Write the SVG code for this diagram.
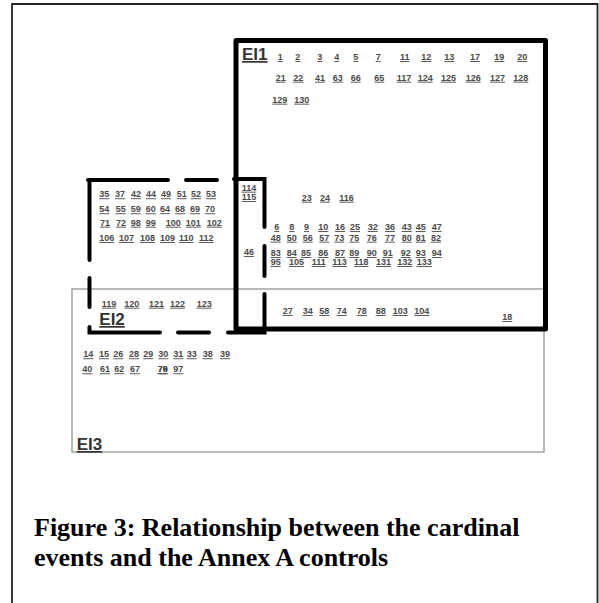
<svg xmlns="http://www.w3.org/2000/svg" width="599" height="603" viewBox="0 0 599 603">
<style>
.n{font-family:"Liberation Sans",Arial,sans-serif;font-size:9px;font-weight:bold;fill:#4a4a4a;text-decoration:underline}
.lab{font-family:"Liberation Sans",Arial,sans-serif;font-size:17px;font-weight:bold;fill:#333;text-decoration:underline}
.cap{font-family:"Liberation Serif","Times New Roman",serif;font-size:26px;font-weight:bold;fill:#000}
.dash{stroke:#000;stroke-width:4;stroke-linecap:round;fill:none}
</style>
<rect x="0" y="0" width="599" height="603" fill="#fff"/>
<path d="M12,603 V4 H597.5 V603" fill="none" stroke="#222" stroke-width="1.8"/>
<g id="EI3">
<rect x="72" y="289" width="472" height="163" fill="none" stroke="#8a8a8a" stroke-width="1.2"/>
<text class="lab" x="76.7" y="450">EI3</text>
<text class="n" y="357.3"><tspan x="83.3">14</tspan><tspan x="99">15</tspan><tspan x="113.3">26</tspan><tspan x="129">28</tspan><tspan x="143.3">29</tspan><tspan x="158.3">30</tspan><tspan x="173.3">31</tspan><tspan x="186.7">33</tspan><tspan x="202.7">38</tspan><tspan x="220">39</tspan></text>
<text class="n" y="372.3"><tspan x="82.3">40</tspan><tspan x="100">61</tspan><tspan x="114.3">62</tspan><tspan x="130">67</tspan><tspan x="157.7">76</tspan><tspan x="173.3">97</tspan></text>
<text class="n" x="157.7" y="372.3">79</text>
</g>
<g id="EI2">
<path class="dash" d="M88,180 H168 M186,180 H217 M234,179 H264.5 V227 M264.5,246 V276 M264.5,294 V332.5 H228 M209,332.5 H178 M160,332.5 H89.5 V327 M89.5,307 V278 M89.5,260 V180 H92"/>
<text class="lab" x="99.3" y="325">EI2</text>
<text class="n" y="197.3"><tspan x="99.3">35</tspan><tspan x="115">37</tspan><tspan x="131">42</tspan><tspan x="146">44</tspan><tspan x="161">49</tspan><tspan x="176.7">51</tspan><tspan x="191">52</tspan><tspan x="206">53</tspan></text>
<text class="n" y="212.3"><tspan x="99.3">54</tspan><tspan x="115.7">55</tspan><tspan x="130.7">59</tspan><tspan x="145.7">60</tspan><tspan x="160">64</tspan><tspan x="175">68</tspan><tspan x="190">69</tspan><tspan x="205">70</tspan></text>
<text class="n" y="225.7"><tspan x="100">71</tspan><tspan x="116">72</tspan><tspan x="130.7">98</tspan><tspan x="145.7">99</tspan><tspan x="165.7">100</tspan><tspan x="185.7">101</tspan><tspan x="206.7">102</tspan></text>
<text class="n" y="241"><tspan x="99.3">106</tspan><tspan x="119">107</tspan><tspan x="140">108</tspan><tspan x="160">109</tspan><tspan x="179">110</tspan><tspan x="199">112</tspan></text>
</g>
<g id="EI2-EI3">
<text class="n" y="306.7"><tspan x="101.7">119</tspan><tspan x="124.3">120</tspan><tspan x="149">121</tspan><tspan x="170">122</tspan><tspan x="196.7">123</tspan></text>
</g>
<g id="EI1">
<rect x="236" y="40.5" width="309.5" height="288.5" fill="none" stroke="#000" stroke-width="5" stroke-linejoin="round"/>
<text class="lab" x="242" y="60">EI1</text>
<text class="n" y="60"><tspan x="277.7">1</tspan><tspan x="295.3">2</tspan><tspan x="317.3">3</tspan><tspan x="334.3">4</tspan><tspan x="353.3">5</tspan><tspan x="375.7">7</tspan><tspan x="400">11</tspan><tspan x="421.3">12</tspan><tspan x="444.3">13</tspan><tspan x="470">17</tspan><tspan x="494.3">19</tspan><tspan x="517.3">20</tspan></text>
<text class="n" y="80.7"><tspan x="275.7">21</tspan><tspan x="293.3">22</tspan><tspan x="315">41</tspan><tspan x="332.7">63</tspan><tspan x="350.7">66</tspan><tspan x="374.3">65</tspan><tspan x="396.7">117</tspan><tspan x="417.7">124</tspan><tspan x="441">125</tspan><tspan x="465.7">126</tspan><tspan x="490">127</tspan><tspan x="513.3">128</tspan></text>
<text class="n" y="102.7"><tspan x="272.3">129</tspan><tspan x="294.3">130</tspan></text>
<text class="n" y="200.7"><tspan x="301.7">23</tspan><tspan x="320">24</tspan><tspan x="339.3">116</tspan></text>
<text class="n" y="230"><tspan x="274.3">6</tspan><tspan x="289.3">8</tspan><tspan x="304">9</tspan><tspan x="318.3">10</tspan><tspan x="335">16</tspan><tspan x="350">25</tspan><tspan x="367.7">32</tspan><tspan x="385">36</tspan><tspan x="401.7">43</tspan><tspan x="415.7">45</tspan><tspan x="431.7">47</tspan></text>
<text class="n" y="240.7"><tspan x="270.7">48</tspan><tspan x="286.7">50</tspan><tspan x="302.7">56</tspan><tspan x="319.3">57</tspan><tspan x="334.3">73</tspan><tspan x="349.3">75</tspan><tspan x="366.7">76</tspan><tspan x="385">77</tspan><tspan x="401.7">80</tspan><tspan x="415.7">81</tspan><tspan x="431">82</tspan></text>
<text class="n" y="256"><tspan x="270.7">83</tspan><tspan x="286.7">84</tspan><tspan x="301">85</tspan><tspan x="318.3">86</tspan><tspan x="335">87</tspan><tspan x="349.3">89</tspan><tspan x="366.7">90</tspan><tspan x="382.7">91</tspan><tspan x="400.7">92</tspan><tspan x="415.7">93</tspan><tspan x="431.7">94</tspan></text>
<text class="n" y="265"><tspan x="270.7">95</tspan><tspan x="289">105</tspan><tspan x="311.7">111</tspan><tspan x="332.3">113</tspan><tspan x="354">118</tspan><tspan x="376">131</tspan><tspan x="397.3">132</tspan><tspan x="416.7">133</tspan></text>
</g>
<g id="EI1-EI2">
<text class="n" x="241.7" y="190.7">114</text>
<text class="n" x="241.7" y="200">115</text>
<text class="n" x="244" y="255">46</text>
</g>
<g id="EI1-EI3">
<text class="n" y="314"><tspan x="282.7">27</tspan><tspan x="302.7">34</tspan><tspan x="319.3">58</tspan><tspan x="336.7">74</tspan><tspan x="356.7">78</tspan><tspan x="375.7">88</tspan><tspan x="392.7">103</tspan><tspan x="414.3">104</tspan></text>
<text class="n" x="502.3" y="320">18</text>
</g>
<g id="caption">
<text class="cap" x="34" y="535.5">Figure 3: Relationship between the cardinal</text>
<text class="cap" x="34" y="566">events and the Annex A controls</text>
</g>
</svg>
